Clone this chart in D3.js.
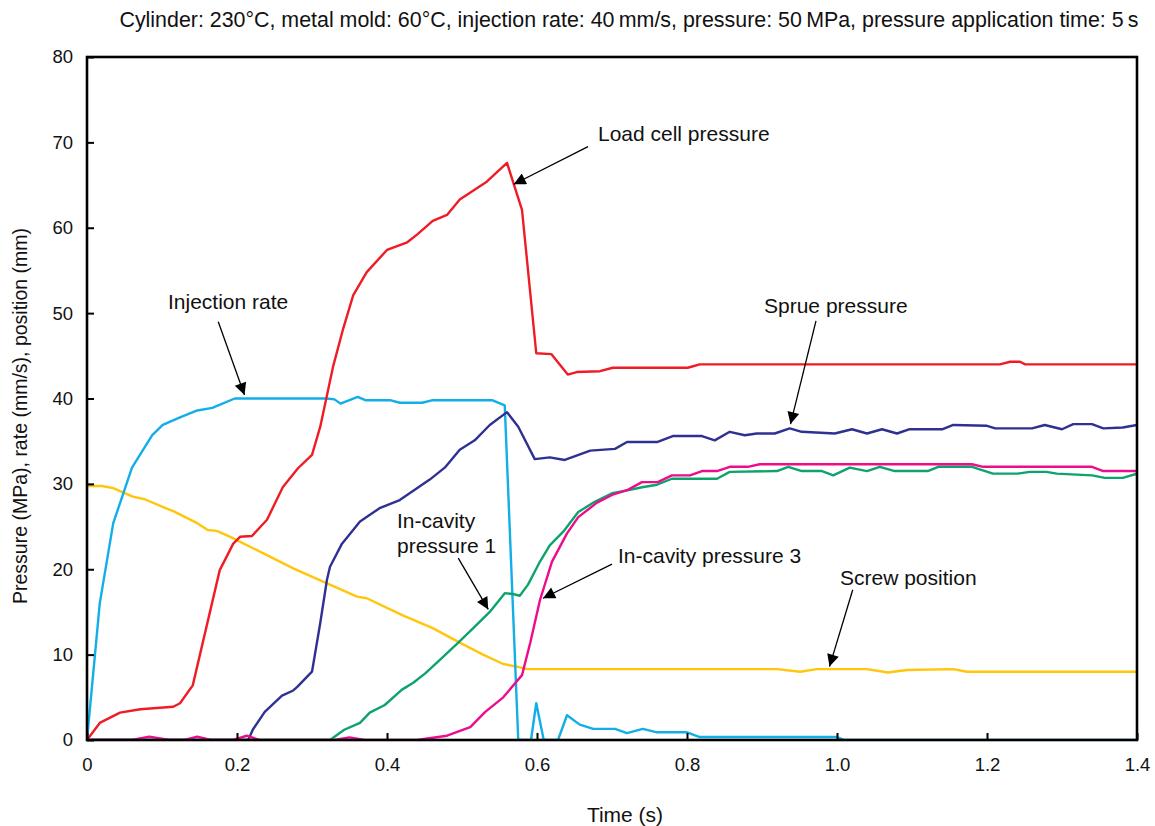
<!DOCTYPE html>
<html><head><meta charset="utf-8">
<script src="https://cdn.jsdelivr.net/npm/d3@7"></script>
<style>body{margin:0;background:#fff;} text{font-family:Arial,"Liberation Sans",sans-serif;fill:#111;}</style>
</head><body>
<svg id="c" width="1155" height="826"></svg>
<script>
const title = "Cylinder: 230\u00b0C, metal mold: 60\u00b0C, injection rate: 40\u2009mm/s, pressure: 50\u2009MPa, pressure application time: 5\u2009s";
const xTicks = [0, 0.2, 0.4, 0.6, 0.8, 1.0, 1.2, 1.4];
const xTickLabels = ["0", "0.2", "0.4", "0.6", "0.8", "1.0", "1.2", "1.4"];
const yTicks = [0, 10, 20, 30, 40, 50, 60, 70, 80];

const screwPosition = [[0,29.75],[0.02,29.75],[0.035,29.5],[0.061,28.5],[0.077,28.2],[0.104,27.2],[0.115,26.8],[0.147,25.4],[0.161,24.6],[0.173,24.5],[0.191,23.8],[0.275,20.1],[0.311,18.7],[0.36,16.8],[0.373,16.6],[0.421,14.6],[0.461,13.1],[0.497,11.4],[0.528,10.0],[0.555,8.9],[0.573,8.6],[0.587,8.3],[0.92,8.3],[0.951,8.0],[0.973,8.3],[1.04,8.3],[1.068,7.9],[1.093,8.2],[1.155,8.3],[1.173,8.0],[1.4,8.0]];
const injectionRate = [[0,0],[0.017,16],[0.035,25.4],[0.06,31.9],[0.087,35.7],[0.101,36.9],[0.124,37.8],[0.147,38.6],[0.167,38.9],[0.197,40],[0.32,40],[0.33,39.9],[0.338,39.4],[0.361,40.2],[0.371,39.8],[0.404,39.8],[0.417,39.5],[0.447,39.5],[0.461,39.8],[0.54,39.8],[0.557,39.2],[0.575,0],[0.592,0],[0.599,4.3],[0.609,0],[0.628,0],[0.64,2.9],[0.657,1.8],[0.675,1.3],[0.704,1.3],[0.72,0.8],[0.741,1.3],[0.76,0.9],[0.8,0.9],[0.817,0.35],[1.0,0.35],[1.01,0],[1.4,0]];
const inCavity1 = [[0,0],[0.324,0],[0.343,1.2],[0.364,2.0],[0.377,3.2],[0.397,4.1],[0.42,5.9],[0.435,6.7],[0.451,7.8],[0.473,9.6],[0.495,11.4],[0.515,13.1],[0.537,15],[0.548,16.2],[0.557,17.2],[0.568,17.1],[0.577,16.9],[0.588,18.2],[0.604,20.9],[0.617,22.8],[0.635,24.4],[0.655,26.7],[0.677,27.9],[0.7,28.9],[0.724,29.3],[0.74,29.6],[0.76,29.9],[0.78,30.6],[0.84,30.6],[0.857,31.4],[0.92,31.5],[0.935,32.0],[0.953,31.5],[0.98,31.5],[0.995,31.0],[1.017,31.9],[1.04,31.5],[1.057,32.0],[1.077,31.5],[1.121,31.5],[1.135,32.0],[1.18,32.0],[1.208,31.2],[1.241,31.2],[1.257,31.4],[1.279,31.4],[1.293,31.2],[1.34,31.0],[1.357,30.7],[1.381,30.7],[1.4,31.2]];
const sprue = [[0,0],[0.215,0],[0.221,1.2],[0.237,3.3],[0.26,5.2],[0.275,5.8],[0.28,6.2],[0.3,8],[0.311,13.7],[0.32,18.8],[0.324,20.3],[0.34,23],[0.364,25.6],[0.391,27.2],[0.417,28.1],[0.437,29.3],[0.457,30.5],[0.477,31.9],[0.497,34],[0.517,35.1],[0.537,36.9],[0.56,38.4],[0.575,36.7],[0.597,32.9],[0.617,33.1],[0.637,32.8],[0.671,33.9],[0.704,34.1],[0.72,34.9],[0.76,34.9],[0.781,35.6],[0.82,35.6],[0.837,35.1],[0.857,36.1],[0.877,35.7],[0.893,35.9],[0.917,35.9],[0.937,36.5],[0.953,36.1],[0.997,35.9],[1.02,36.4],[1.04,35.9],[1.06,36.4],[1.08,35.9],[1.097,36.4],[1.141,36.4],[1.155,36.9],[1.2,36.8],[1.211,36.5],[1.26,36.5],[1.277,36.9],[1.3,36.4],[1.315,37.0],[1.34,37.0],[1.355,36.5],[1.381,36.6],[1.4,36.9]];
const inCavity3 = [[0,0],[0.06,0],[0.083,0.4],[0.11,0],[0.13,0],[0.147,0.4],[0.165,0],[0.195,0],[0.213,0.5],[0.23,0],[0.33,0],[0.35,0.3],[0.37,0],[0.44,0],[0.48,0.5],[0.511,1.5],[0.531,3.3],[0.555,5.0],[0.58,7.6],[0.591,11.4],[0.604,16.4],[0.62,20.9],[0.64,24.2],[0.655,26.1],[0.68,27.8],[0.7,28.7],[0.721,29.3],[0.74,30.2],[0.761,30.2],[0.78,31.0],[0.804,31.0],[0.82,31.5],[0.84,31.5],[0.857,32.0],[0.881,32.0],[0.897,32.3],[1.18,32.3],[1.195,32.0],[1.34,32.0],[1.355,31.5],[1.4,31.5]];
const loadCell = [[0,0],[0.017,2],[0.044,3.2],[0.071,3.6],[0.115,3.9],[0.124,4.3],[0.141,6.4],[0.177,19.9],[0.195,23],[0.204,23.8],[0.22,23.9],[0.24,25.8],[0.261,29.6],[0.281,31.8],[0.3,33.4],[0.311,36.7],[0.328,43.7],[0.341,48.0],[0.355,52.1],[0.373,54.8],[0.4,57.4],[0.427,58.3],[0.44,59.2],[0.461,60.8],[0.48,61.5],[0.497,63.3],[0.533,65.4],[0.56,67.6],[0.58,62.1],[0.599,45.3],[0.619,45.2],[0.641,42.8],[0.653,43.1],[0.684,43.2],[0.701,43.6],[0.801,43.6],[0.817,44],[1.217,44],[1.231,44.3],[1.244,44.3],[1.251,44],[1.4,44]];

const seriesNames = ["Screw position","Injection rate","In-cavity pressure 1","Sprue pressure","In-cavity pressure 3","Load cell pressure"];
const seriesData = [screwPosition, injectionRate, inCavity1, sprue, inCavity3, loadCell];
const seriesColors = ["#FFC60B","#12AEE8","#0EA36C","#2E3192","#EC0C8C","#EE1D25"];

const annotations = [
  {lines:["Load cell pressure"], tx:0.6813, ty:70.16, from:[0.668,69.5], to:[0.569,65.1]},
  {lines:["Injection rate"], tx:0.108, ty:50.48, from:[0.175,49.0], to:[0.21,40.4]},
  {lines:["Sprue pressure"], tx:0.9027, ty:50.0, from:[0.972,49.1], to:[0.938,37.0]},
  {lines:["In-cavity","pressure 1"], tx:0.4133, ty:24.83, from:[0.495,21.3], to:[0.535,15.3]},
  {lines:["In-cavity pressure 3"], tx:0.708, ty:20.73, from:[0.7,20.6], to:[0.608,16.6]},
  {lines:["Screw position"], tx:1.004, ty:18.16, from:[1.021,17.6], to:[0.99,8.6]}
];

const m = {l:87, t:57, r:1137, b:740};
const svg = d3.select("#c");
const x = d3.scaleLinear().domain([0,1.4]).range([m.l, m.r]);
const y = d3.scaleLinear().domain([0,80]).range([m.b, m.t]);

svg.append("defs").append("marker").attr("id","ah").attr("viewBox","0 0 10 10")
  .attr("refX",10).attr("refY",5).attr("markerWidth",16).attr("markerHeight",12)
  .attr("markerUnits","userSpaceOnUse").attr("orient","auto")
  .append("path").attr("d","M0,0L10,5L0,10Z").attr("fill","#000");

svg.append("text").attr("x",629).attr("y",27).attr("text-anchor","middle")
  .style("font-size","21.4px").text(title);

svg.append("clipPath").attr("id","clip").append("rect")
  .attr("x",m.l).attr("y",m.t).attr("width",m.r-m.l).attr("height",m.b-m.t);

const line = d3.line().x(d=>x(d[0])).y(d=>y(d[1]));
const g = svg.append("g").attr("clip-path","url(#clip)");
seriesData.forEach((s,i)=>{
  g.append("path").datum(s).attr("d",line).attr("fill","none")
   .attr("stroke",seriesColors[i]).attr("stroke-width",2.4).attr("stroke-linejoin","round");
});

const xAxis = d3.axisBottom(x).tickValues(xTicks).tickFormat((d,i)=>xTickLabels[i]).tickSizeInner(-7).tickSizeOuter(0).tickPadding(24);
const yAxis = d3.axisLeft(y).tickValues(yTicks).tickSizeInner(-7).tickSizeOuter(0).tickPadding(14);
const gx = svg.append("g").attr("transform",`translate(0,${m.b})`).call(xAxis);
const gy = svg.append("g").attr("transform",`translate(${m.l},0)`).call(yAxis);
[gx,gy].forEach(a=>{
  a.select(".domain").remove();
  a.selectAll(".tick line").attr("stroke","#000").attr("stroke-width",2);
  a.selectAll(".tick text").style("font-size","18.5px").attr("fill","#111")
   .style("font-family","Arial, 'Liberation Sans', sans-serif");
});
gx.selectAll(".tick text").attr("dy","0.4em");

svg.append("rect").attr("x",m.l).attr("y",m.t).attr("width",m.r-m.l).attr("height",m.b-m.t)
  .attr("fill","none").attr("stroke","#000").attr("stroke-width",2.6);

svg.append("text").attr("x",625).attr("y",822).attr("text-anchor","middle")
  .style("font-size","21px").text("Time (s)");
svg.append("text").attr("transform",`translate(27,416) rotate(-90)`)
  .attr("text-anchor","middle").style("font-size","19.5px")
  .text("Pressure (MPa), rate (mm/s), position (mm)");

annotations.forEach(a=>{
  const t = svg.append("text").attr("x",x(a.tx)).attr("y",y(a.ty)).style("font-size","21px");
  a.lines.forEach((l,i)=>t.append("tspan").attr("x",x(a.tx)).attr("dy",i?25:0).text(l));
  svg.append("line").attr("x1",x(a.from[0])).attr("y1",y(a.from[1]))
    .attr("x2",x(a.to[0])).attr("y2",y(a.to[1]))
    .attr("stroke","#000").attr("stroke-width",1.3).attr("marker-end","url(#ah)");
});
</script>
</body></html>
